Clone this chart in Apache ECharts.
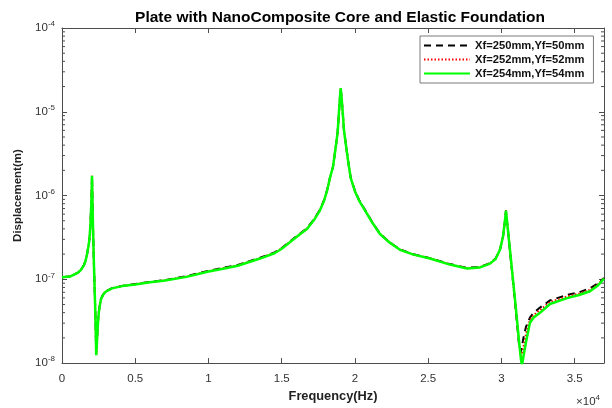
<!DOCTYPE html>
<html>
<head>
<meta charset="utf-8">
<script src="https://cdn.jsdelivr.net/npm/echarts@6/dist/echarts.min.js"></script>
<style>html,body{margin:0;padding:0;background:#fff}#c{width:612px;height:408px}</style>
</head>
<body>
<div id="c"></div>
<script>
// ---- data ----
const titleText = 'Plate with NanoComposite Core and Elastic Foundation';
const seriesNames = ['Xf=250mm,Yf=50mm', 'Xf=252mm,Yf=52mm', 'Xf=254mm,Yf=54mm'];
const xTickValues = [0, 5000, 10000, 15000, 20000, 25000, 30000, 35000];
const yMinorTicks = [2e-8,3e-8,4e-8,5e-8,6e-8,7e-8,8e-8,9e-8,
                     2e-7,3e-7,4e-7,5e-7,6e-7,7e-7,8e-7,9e-7,
                     2e-6,3e-6,4e-6,5e-6,6e-6,7e-6,8e-6,9e-6,
                     2e-5,3e-5,4e-5,5e-5,6e-5,7e-5,8e-5,9e-5];
const freqHz = [
  0, 546, 1092, 1300, 1500, 1600, 1700, 1800, 1850, 1900,
  1950, 2000, 2030, 2048, 2080, 2116, 2184, 2253, 2300, 2335,
  2380, 2423, 2470, 2526, 2600, 2662, 2800, 2935, 3150, 3413,
  4096, 5000, 6000, 7031, 8500, 10000, 11000, 12000, 13515, 14500,
  15000, 15768, 16200, 16724, 17200, 17611, 17900, 18100, 18294, 18500,
  18703, 18820, 18908, 18970, 19024, 19090, 19160, 19250, 19386, 19530,
  19706, 20000, 20300, 20683, 21200, 21706, 22300, 23072, 24000, 25119,
  26485, 27645, 28500, 29215, 29600, 29898, 30102, 30239, 30307, 30580,
  30922, 31195, 31330, 31400, 31500, 31672, 31945, 32200, 32628, 33311,
  34471, 35300, 36041, 36600, 37000];
const dispA = [
  1.06e-7, 1.08e-7, 1.2e-7, 1.3e-7, 1.48e-7, 1.65e-7, 1.95e-7, 2.45e-7, 2.8e-7, 3.5e-7,
  4.8e-7, 8.0e-7, 1.2e-6, 1.72e-6, 8.5e-7, 4.2e-7, 1.42e-7, 5.5e-8, 2.7e-8, 1.3e-8,
  1.75e-8, 2.5e-8, 3.35e-8, 4.25e-8, 5.15e-8, 5.85e-8, 6.55e-8, 7.05e-8, 7.45e-8, 7.85e-8,
  8.35e-8, 8.8e-8, 9.3e-8, 9.8e-8, 1.09e-7, 1.265e-7, 1.37e-7, 1.48e-7, 1.81e-7, 2.09e-7,
  2.37e-7, 3.02e-7, 3.47e-7, 4.06e-7, 5.2e-7, 6.8e-7, 8.9e-7, 1.16e-6, 1.64e-6, 2.2e-6,
  3.98e-6, 5.8e-6, 1.0e-5, 1.45e-5, 1.91e-5, 1.45e-5, 1.0e-5, 6.0e-6, 3.98e-6, 2.6e-6,
  1.64e-6, 1.13e-6, 8.7e-7, 6.75e-7, 4.75e-7, 3.52e-7, 2.83e-7, 2.27e-7, 1.99e-7, 1.79e-7,
  1.52e-7, 1.37e-7, 1.40e-7, 1.56e-7, 1.77e-7, 2.27e-7, 3.2e-7, 5.0e-7, 6.6e-7, 2.2e-7,
  5.4e-8, 1.7e-8, 1.35e-8, 1.6e-8, 2.0e-8, 2.7e-8, 3.5e-8, 4.0e-8, 4.6e-8, 5.6e-8,
  6.5e-8, 7.0e-8, 7.8e-8, 9.0e-8, 1.04e-7];
const dispB = [
  1.06e-7, 1.08e-7, 1.2e-7, 1.3e-7, 1.48e-7, 1.65e-7, 1.95e-7, 2.45e-7, 2.8e-7, 3.5e-7,
  4.8e-7, 8.0e-7, 1.2e-6, 1.72e-6, 8.5e-7, 4.2e-7, 1.42e-7, 5.5e-8, 2.65e-8, 1.27e-8,
  1.72e-8, 2.47e-8, 3.32e-8, 4.22e-8, 5.12e-8, 5.82e-8, 6.52e-8, 7.02e-8, 7.42e-8, 7.82e-8,
  8.32e-8, 8.75e-8, 9.25e-8, 9.75e-8, 1.08e-7, 1.25e-7, 1.355e-7, 1.465e-7, 1.79e-7, 2.07e-7,
  2.345e-7, 2.99e-7, 3.43e-7, 4.02e-7, 5.15e-7, 6.73e-7, 8.85e-7, 1.155e-6, 1.635e-6, 2.2e-6,
  3.98e-6, 5.8e-6, 1.0e-5, 1.45e-5, 1.91e-5, 1.45e-5, 1.0e-5, 6.0e-6, 3.98e-6, 2.6e-6,
  1.635e-6, 1.125e-6, 8.65e-7, 6.72e-7, 4.72e-7, 3.5e-7, 2.815e-7, 2.26e-7, 1.98e-7, 1.78e-7,
  1.51e-7, 1.36e-7, 1.39e-7, 1.55e-7, 1.76e-7, 2.26e-7, 3.2e-7, 5.0e-7, 6.6e-7, 2.22e-7,
  5.6e-8, 1.8e-8, 1.2e-8, 1.25e-8, 1.55e-8, 2.2e-8, 3.3e-8, 3.75e-8, 4.3e-8, 5.35e-8,
  6.25e-8, 6.75e-8, 7.5e-8, 8.75e-8, 1.03e-7];
const dispC = [
  1.06e-7, 1.08e-7, 1.2e-7, 1.3e-7, 1.48e-7, 1.65e-7, 1.95e-7, 2.45e-7, 2.8e-7, 3.5e-7,
  4.8e-7, 8.0e-7, 1.2e-6, 1.72e-6, 8.5e-7, 4.2e-7, 1.42e-7, 5.5e-8, 2.6e-8, 1.24e-8,
  1.7e-8, 2.44e-8, 3.3e-8, 4.2e-8, 5.1e-8, 5.8e-8, 6.5e-8, 7.0e-8, 7.4e-8, 7.8e-8,
  8.3e-8, 8.7e-8, 9.2e-8, 9.7e-8, 1.07e-7, 1.24e-7, 1.34e-7, 1.45e-7, 1.77e-7, 2.05e-7,
  2.32e-7, 2.96e-7, 3.4e-7, 3.98e-7, 5.1e-7, 6.67e-7, 8.8e-7, 1.15e-6, 1.63e-6, 2.2e-6,
  3.98e-6, 5.8e-6, 1.0e-5, 1.45e-5, 1.91e-5, 1.45e-5, 1.0e-5, 6.0e-6, 3.98e-6, 2.6e-6,
  1.63e-6, 1.12e-6, 8.6e-7, 6.67e-7, 4.7e-7, 3.48e-7, 2.8e-7, 2.25e-7, 1.97e-7, 1.77e-7,
  1.50e-7, 1.35e-7, 1.38e-7, 1.54e-7, 1.75e-7, 2.25e-7, 3.2e-7, 5.0e-7, 6.6e-7, 2.25e-7,
  5.8e-8, 1.87e-8, 1.1e-8, 9.5e-9, 1.2e-8, 1.77e-8, 3.03e-8, 3.5e-8, 3.98e-8, 5.08e-8,
  5.97e-8, 6.5e-8, 7.2e-8, 8.5e-8, 1.02e-7];

// ---- chart ----
const FONT = '"Liberation Sans", Arial, Helvetica, sans-serif';
const AX = '#4d4d4d';
const pair = (ys) => freqHz.map((f, i) => [f, ys[i]]);
const chart = echarts.init(document.getElementById('c'), null, {renderer: 'canvas'});

const xCommon = {
  type: 'value', min: 0, max: 37000, interval: 5000,
  axisLine: {show: true, onZero: false, lineStyle: {color: AX, width: 1}},
  axisTick: {show: true, inside: true, length: 5, lineStyle: {color: AX}},
  splitLine: {show: false}
};
const yCommon = {
  type: 'log', logBase: 10, min: 1e-8, max: 1e-4,
  axisLine: {show: true, onZero: false, lineStyle: {color: AX, width: 1}},
  axisTick: {show: true, inside: true, length: 5, lineStyle: {color: AX}},
  splitLine: {show: false}, minorTick: {show: false}
};

chart.setOption({
  animation: false,
  backgroundColor: '#fff',
  title: {
    text: titleText, left: 335, top: 5, textAlign: 'center',
    textStyle: {fontFamily: FONT, fontWeight: 'bold', fontSize: 15.5, color: '#000'}
  },
  grid: {left: 62, right: 8, top: 28, bottom: 40, containLabel: false},
  legend: {
    left: 420, top: 36, orient: 'vertical',
    itemWidth: 46, itemHeight: 10, itemGap: 3,
    padding: [4, 9, 4, 3],
    borderColor: '#7a7a7a', borderWidth: 1, backgroundColor: '#fff',
    itemStyle: {opacity: 0},
    textStyle: {fontFamily: FONT, fontWeight: 'bold', fontSize: 11.2, color: '#111'},
    data: seriesNames
  },
  xAxis: [
    Object.assign({}, xCommon, {
      position: 'bottom',
      axisLabel: {
        show: true, margin: 10, color: '#333', fontFamily: FONT, fontSize: 11.5,
        showMaxLabel: false,
        formatter: (v) => xTickValues.indexOf(v) >= 0 ? String(v / 1e4) : ''
      },
      name: 'Frequency(Hz)', nameLocation: 'middle', nameGap: 24,
      nameTextStyle: {fontFamily: FONT, fontWeight: 'bold', fontSize: 12.8, color: '#222'}
    }),
    Object.assign({}, xCommon, {position: 'top', axisLabel: {show: false}})
  ],
  yAxis: [
    Object.assign({}, yCommon, {
      position: 'left',
      axisLabel: {
        show: true, margin: 7, color: '#333', fontFamily: FONT,
        formatter: (v) => '{b|10}{s|' + Math.round(Math.log10(v)) + '}',
        rich: {
          b: {fontFamily: FONT, fontSize: 11.5, color: '#333'},
          s: {fontFamily: FONT, fontSize: 8, color: '#333', padding: [0, 0, 8, 0]}
        }
      },
      name: 'Displacement(m)', nameLocation: 'middle', nameGap: 37, nameRotate: 90,
      nameTextStyle: {fontFamily: FONT, fontWeight: 'bold', fontSize: 11.5, color: '#222'}
    }),
    Object.assign({}, yCommon, {position: 'right', axisLabel: {show: false}})
  ],
  graphic: [{
    type: 'text', right: 12, bottom: 0,
    style: {
      text: '{a|×10}{s|4}', fill: '#333',
      rich: {
        a: {fontFamily: FONT, fontSize: 11.5, fill: '#333'},
        s: {fontFamily: FONT, fontSize: 8, fill: '#333', padding: [0, 0, 8, 0]}
      }
    }
  }],
  series: [
    {
      name: seriesNames[0], type: 'line', data: pair(dispA), showSymbol: false, symbol: 'none',
      lineStyle: {color: '#000', width: 2, type: [7, 5]}, itemStyle: {color: '#000'}, z: 2, clip: true
    },
    {
      name: seriesNames[1], type: 'line', data: pair(dispB), showSymbol: false, symbol: 'none',
      lineStyle: {color: '#ff0000', width: 2, type: [1.5, 2]}, itemStyle: {color: '#ff0000'}, z: 3, clip: true
    },
    {
      name: seriesNames[2], type: 'line', data: pair(dispC), showSymbol: false, symbol: 'none',
      lineStyle: {color: '#00ff00', width: 2.5}, itemStyle: {color: '#00ff00'}, z: 4, clip: true
    },
    {
      type: 'custom', silent: true, xAxisIndex: 0, yAxisIndex: 0,
      data: yMinorTicks.map((v) => [0, v]),
      encode: {x: 0, y: 1},
      renderItem: (params, api) => {
        const y = api.coord([0, api.value(1)])[1];
        const cs = params.coordSys;
        return {
          type: 'group', children: [
            {type: 'line', shape: {x1: cs.x, y1: y, x2: cs.x + 3, y2: y}, style: {stroke: AX, lineWidth: 1}},
            {type: 'line', shape: {x1: cs.x + cs.width - 3, y1: y, x2: cs.x + cs.width, y2: y}, style: {stroke: AX, lineWidth: 1}}
          ]
        };
      }
    }
  ]
});
</script>
</body>
</html>
